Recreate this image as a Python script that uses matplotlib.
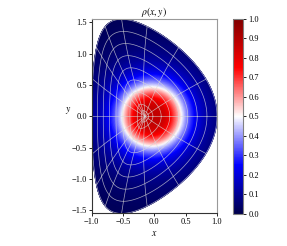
import numpy as np
import matplotlib
matplotlib.use("Agg")
import matplotlib.pyplot as plt

plt.rcParams['font.family'] = ['Liberation Serif', 'DejaVu Serif']
plt.rcParams['mathtext.fontset'] = 'stix'
plt.rcParams['font.size'] = 6

# plasma shape (Miller-like surfaces)
kappa = 1.55
delta = 0.55
shift0 = -0.15

# density profile
rhoPeak = 0.87
rhoCenter = -0.04
rhoWidth = 0.523
rhoPower = 3.3

# grid of flux labels drawn
surfaceLevels = [0.06, 0.125, 0.25, 0.375, 0.5, 0.625, 0.75, 0.875, 1.0]
nSpokes = 16

xTicks = [-1.0, -0.5, 0.0, 0.5, 1.0]
yTicks = [-1.5, -1.0, -0.5, 0.0, 0.5, 1.0, 1.5]
cbTicks = [0.0, 0.1, 0.2, 0.3, 0.4, 0.5, 0.6, 0.7, 0.8, 0.9, 1.0]


def mapXY(r, th):
    x = shift0 * (1 - r**2) + r * np.cos(th + delta * np.sin(th))
    y = kappa * r * np.sin(th)
    return x, y


def density(x, y):
    d = np.sqrt((x - rhoCenter)**2 + y**2)
    return rhoPeak / (1 + (d / rhoWidth)**rhoPower)


fig = plt.figure(figsize=(2.87, 2.46), dpi=100)
ax = fig.add_axes([0.3195, 0.1313, 0.4366, 0.7915])
cax = fig.add_axes([0.8108, 0.1313, 0.037, 0.7915])

r = np.linspace(0, 1, 200)
th = np.linspace(0, 2 * np.pi, 400)
R, TH = np.meshgrid(r, th)
X, Y = mapXY(R, TH)
Z = density(X, Y)

pc = ax.pcolormesh(X, Y, Z, cmap='seismic', vmin=0, vmax=1, shading='gouraud')

# flux surfaces
for lev in surfaceLevels:
    xs, ys = mapXY(lev, th)
    ax.plot(xs, ys, color='0.85', lw=0.5, alpha=0.75)

# spokes
for k in range(nSpokes):
    t = 2 * np.pi * k / nSpokes
    xs, ys = mapXY(r, t)
    ax.plot(xs, ys, color='0.85', lw=0.5, alpha=0.75)

ax.set_xlim(-1.0, 1.0)
ax.set_ylim(-1.55, 1.55)
ax.set_aspect('equal')
ax.set_xticks(xTicks)
ax.set_yticks(yTicks)
ax.set_title(r'$\rho(x,y)$', fontsize=7, pad=2)
ax.set_xlabel(r'$x$', fontsize=7, labelpad=2)
ax.set_ylabel(r'$y$', fontsize=7, rotation=0, labelpad=2)
ax.tick_params(length=2, width=0.6, pad=1.5)
for side in ['top', 'right']:
    ax.spines[side].set_color('0.6')
for side in ['left', 'bottom']:
    ax.spines[side].set_color('0.2')
for s in ax.spines.values():
    s.set_linewidth(0.8)

cb = fig.colorbar(pc, cax=cax)
cb.set_ticks(cbTicks)
cb.ax.tick_params(length=2, width=0.6, pad=1.5, labelsize=6)
cb.outline.set_edgecolor('0.5')
cb.outline.set_linewidth(0.8)

fig.savefig('out.png', dpi=100)
